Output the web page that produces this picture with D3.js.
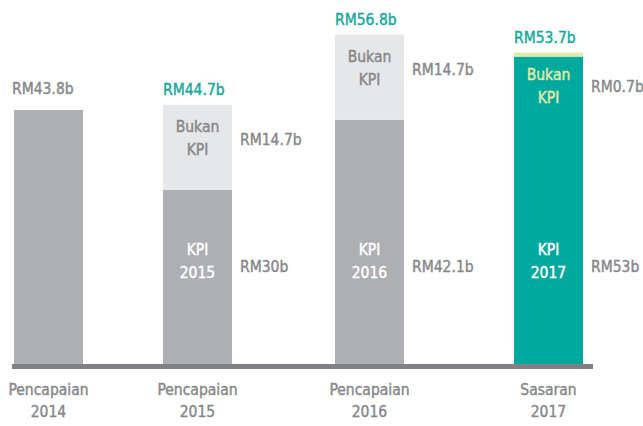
<!DOCTYPE html>
<html>
<head>
<meta charset="utf-8">
<script src="https://cdn.jsdelivr.net/npm/d3@7"></script>
<style>
  html, body { margin: 0; padding: 0; background: #fff; }
  svg { display: block; font-family: "DejaVu Sans Condensed", "DejaVu Sans", sans-serif; font-stretch: condensed; }
  svg text { stroke-width: 0.4px; }
</style>
</head>
<body>
<svg id="chart" width="643" height="426"></svg>
<script>
// Bajet pencapaian (RM bilion)
const categories = ["2014", "2015", "2016", "2017"];
const categoryTitles = ["Pencapaian", "Pencapaian", "Pencapaian", "Sasaran"];
const kpiValues = [43.8, 30, 42.1, 53];
const nonKpiValues = [0, 14.7, 14.7, 0.7];
const totalValues = [43.8, 44.7, 56.8, 53.7];
const isTarget = [false, false, false, true];

const W = 643, H = 426;
const baseY = 364;
const barW = 69;

const svg = d3.select("#chart");

const x = d3.scaleOrdinal()
  .domain(categories)
  .range([48.5, 197.5, 369.5, 548.5]);

const y = d3.scaleLinear()
  .domain([0, 60])
  .range([baseY, 16]);

const C = {
  bar: "#aeafb2",
  barLight: "#e6e7e8",
  target: "#00a99d",
  targetLight: "#e3eaa9",
  text: "#86878a",
  teal: "#14a89b",
  axis: "#808184"
};

const rows = categories.map((c, i) => ({
  cat: c,
  title: categoryTitles[i],
  kpi: kpiValues[i],
  non: nonKpiValues[i],
  total: totalValues[i],
  target: isTarget[i],
  split: nonKpiValues[i] > 0
}));

const fmt = v => `RM${v}b`;
const fs = 15.5;

// KPI segment
svg.append("g").selectAll("rect")
  .data(rows).join("rect")
  .attr("x", d => x(d.cat) - barW / 2)
  .attr("width", barW)
  .attr("y", d => y(d.kpi))
  .attr("height", d => y(0) - y(d.kpi))
  .attr("fill", d => d.target ? C.target : C.bar);

// Non-KPI segment stacked above
svg.append("g").selectAll("rect")
  .data(rows.filter(d => d.split)).join("rect")
  .attr("x", d => x(d.cat) - barW / 2)
  .attr("width", barW)
  .attr("y", d => y(d.kpi + d.non))
  .attr("height", d => y(d.kpi) - y(d.kpi + d.non))
  .attr("fill", d => d.target ? C.targetLight : C.barLight);

// Baseline
svg.append("rect")
  .attr("x", 12).attr("width", 581)
  .attr("y", baseY).attr("height", 5)
  .attr("fill", C.axis);

// Totals above the bars
svg.append("g").selectAll("text")
  .data(rows).join("text")
  .attr("x", d => x(d.cat) - barW / 2 - (d.split ? 0 : 2))
  .attr("y", d => y(d.total) - (d.split ? 10 : 16))
  .attr("font-size", fs)
  .attr("fill", d => d.split ? C.teal : C.text)
  .attr("stroke", d => d.split ? C.teal : C.text)
  .text(d => fmt(d.total));

// "Bukan KPI" labels, anchored to the top of the stack
const nonRows = rows.filter(d => d.split);
const thin = d => (y(d.kpi) - y(d.kpi + d.non)) < 55;
const nonLabel = svg.append("g").selectAll("text")
  .data(nonRows).join("text")
  .attr("text-anchor", "middle")
  .attr("font-size", fs)
  .attr("fill", d => thin(d) ? C.targetLight : C.text)
  .attr("stroke", d => thin(d) ? C.targetLight : C.text);
nonLabel.append("tspan")
  .attr("x", d => x(d.cat))
  .attr("y", d => y(d.kpi + d.non) + 27)
  .text("Bukan");
nonLabel.append("tspan")
  .attr("x", d => x(d.cat))
  .attr("y", d => y(d.kpi + d.non) + 50)
  .text("KPI");

// Non-KPI value beside the bar
svg.append("g").selectAll("text")
  .data(nonRows).join("text")
  .attr("x", d => x(d.cat) + barW / 2 + 8)
  .attr("y", d => {
    const top = y(d.kpi + d.non), bot = y(d.kpi);
    const mid = thin(d) ? top + 33 : (top + bot) / 2 - 8;
    return mid + 6;
  })
  .attr("font-size", fs)
  .attr("fill", C.text)
  .attr("stroke", C.text)
  .text(d => fmt(d.non));

// KPI labels, on a common row
const kpiRowY = 262;
const kpiLabel = svg.append("g").selectAll("text")
  .data(nonRows).join("text")
  .attr("text-anchor", "middle")
  .attr("font-size", fs)
  .attr("fill", "#ffffff")
  .attr("stroke", "#ffffff");
kpiLabel.append("tspan")
  .attr("x", d => x(d.cat)).attr("y", kpiRowY - 7)
  .text("KPI");
kpiLabel.append("tspan")
  .attr("x", d => x(d.cat)).attr("y", kpiRowY + 16)
  .text(d => d.cat);

svg.append("g").selectAll("text")
  .data(nonRows).join("text")
  .attr("x", d => x(d.cat) + barW / 2 + 8)
  .attr("y", kpiRowY + 10)
  .attr("font-size", fs)
  .attr("fill", C.text)
  .attr("stroke", C.text)
  .text(d => fmt(d.kpi));

// Category labels
const catLabel = svg.append("g").selectAll("text")
  .data(rows).join("text")
  .attr("text-anchor", "middle")
  .attr("font-size", fs)
  .attr("fill", C.text)
  .attr("stroke", C.text);
catLabel.append("tspan")
  .attr("x", d => x(d.cat)).attr("y", 395)
  .text(d => d.title);
catLabel.append("tspan")
  .attr("x", d => x(d.cat)).attr("y", 417)
  .text(d => d.cat);
</script>
</body>
</html>
